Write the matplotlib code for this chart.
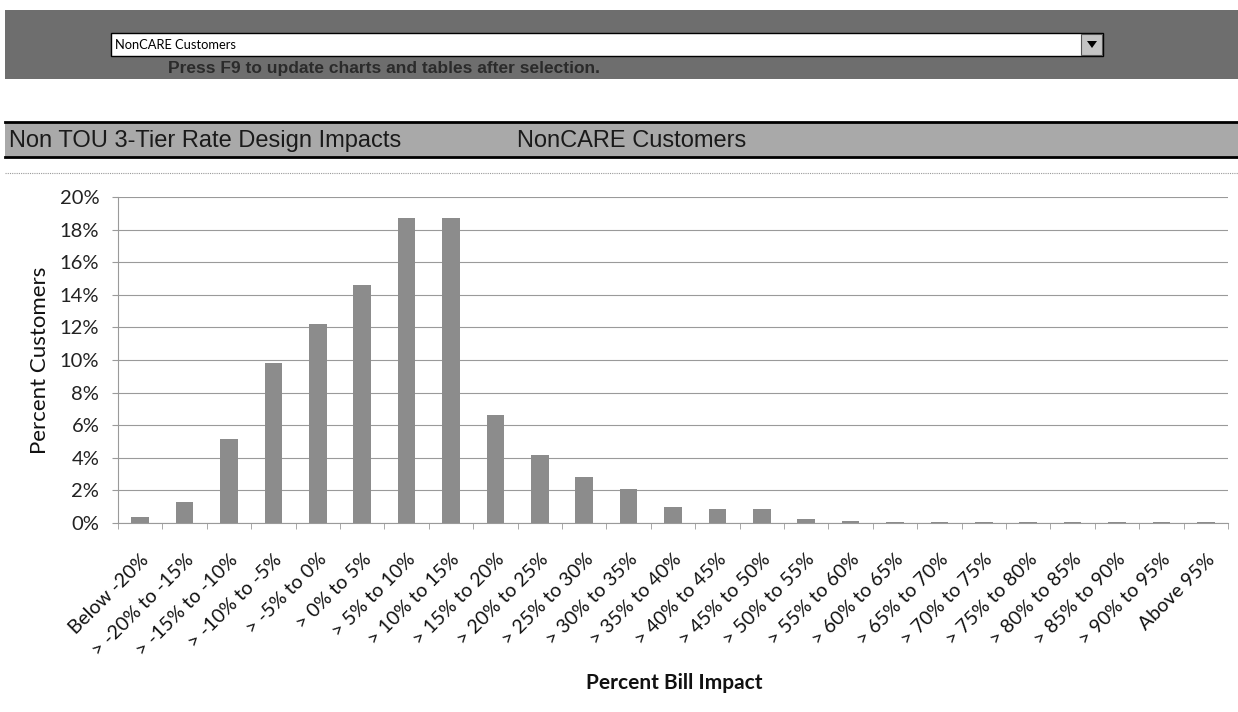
import matplotlib
matplotlib.use("Agg")
import matplotlib.pyplot as plt
import matplotlib.patches as patches
from matplotlib.ticker import PercentFormatter, FixedLocator
import numpy as np

W, H = 1238, 712

# bill impact bins and share of customers (fraction)
categories = ["Below -20%", "> -20% to -15%", "> -15% to -10%", "> -10% to -5%",
              "> -5% to 0%", "> 0% to 5%", "> 5% to 10%", "> 10% to 15%",
              "> 15% to 20%", "> 20% to 25%", "> 25% to 30%", "> 30% to 35%",
              "> 35% to 40%", "> 40% to 45%", "> 45% to 50%", "> 50% to 55%",
              "> 55% to 60%", "> 60% to 65%", "> 65% to 70%", "> 70% to 75%",
              "> 75% to 80%", "> 80% to 85%", "> 85% to 90%", "> 90% to 95%",
              "Above 95%"]
pct_customers = [0.0035, 0.013, 0.0515, 0.098, 0.122, 0.146, 0.187, 0.187,
                 0.066, 0.042, 0.028, 0.021, 0.0096, 0.0088, 0.0088, 0.0025,
                 0.0015, 0.0008, 0.0008, 0.0009, 0.0008, 0.0008, 0.0009, 0.0009,
                 0.0009]
y_ticks = np.arange(0, 0.201, 0.02)

selection = "NonCARE Customers"
hint = "Press F9 to update charts and tables after selection."
title = "Non TOU 3-Tier Rate Design Impacts"

fig = plt.figure(figsize=(W / 100, H / 100), dpi=100)


def fx(x):
    return x / W


def fy(y):
    return 1 - y / H


def rect(x0, y0, x1, y1, **kw):
    r = patches.Rectangle((fx(x0), fy(y1)), fx(x1) - fx(x0), fy(y0) - fy(y1),
                          transform=fig.transFigure, **kw)
    fig.patches.append(r)


# selector band at the top
rect(5, 10, 1238, 79, facecolor="#6e6e6e", edgecolor="none")
rect(111, 33, 1103, 56, facecolor="white", edgecolor="black", lw=1)
rect(1081, 34, 1102, 55, facecolor="#c4c4c4", edgecolor="#555555", lw=0.8)
tri = patches.Polygon([(fx(1087), fy(41)), (fx(1097), fy(41)), (fx(1092), fy(48))],
                      closed=True, facecolor="black", transform=fig.transFigure)
fig.patches.append(tri)
fig.text(fx(115), fy(45), selection, fontsize=9.3, family="Lato", va="center")
fig.text(fx(168), fy(68), hint, fontsize=12.5, family="Liberation Sans",
         weight="bold", color="#2b2b2b", va="center")

# title band
rect(5, 122, 1238, 157, facecolor="#a9a9a9", edgecolor="none")
fig.add_artist(plt.Line2D([fx(5), 1], [fy(122), fy(122)], color="black", lw=2,
                          transform=fig.transFigure))
fig.add_artist(plt.Line2D([fx(5), 1], [fy(157), fy(157)], color="black", lw=2,
                          transform=fig.transFigure))
fig.text(fx(9), fy(141), title, fontsize=17, family="Liberation Sans",
         color="#1a1a1a", va="center")
fig.text(fx(517), fy(141), selection, fontsize=17, family="Liberation Sans",
         color="#1a1a1a", va="center")
fig.add_artist(plt.Line2D([fx(5), 1], [fy(173), fy(173)], color="#9a9a9a", lw=0.8,
                          ls=(0, (1, 1)), transform=fig.transFigure))

# chart
ax = fig.add_axes([fx(118), fy(523), fx(1228) - fx(118), fy(197) - fy(523)])
x = np.arange(len(categories))
ax.bar(x, pct_customers, width=0.4, color="#8c8c8c", zorder=3)
ax.set_xlim(-0.5, len(categories) - 0.5)
ax.set_ylim(0, 0.20)
ax.set_yticks(y_ticks)
ax.yaxis.set_major_formatter(PercentFormatter(1, decimals=0))
ax.grid(axis="y", color="#9a9a9a", lw=0.8, zorder=0)

for s in ["top", "right"]:
    ax.spines[s].set_visible(False)
for s in ["left", "bottom"]:
    ax.spines[s].set_color("#9a9a9a")
    ax.spines[s].set_linewidth(0.8)

ax.tick_params(axis="y", length=4.5, color="#9a9a9a", pad=9, labelsize=14.5)
for lab in ax.get_yticklabels():
    lab.set_family("Lato")
    lab.set_color("#222222")

ax.set_xticks(x)
ax.set_xticklabels(categories, rotation=45, ha="right", va="top",
                   rotation_mode="anchor", fontsize=14, family="Lato",
                   color="#111111")
ax.tick_params(axis="x", which="major", length=0, pad=20)
ax.xaxis.set_minor_locator(FixedLocator(np.arange(-0.5, len(categories), 1.0)))
ax.tick_params(axis="x", which="minor", length=4, color="#9a9a9a")

fig.text(fx(40), fy(360), "Percent Customers", rotation=90, fontsize=16,
         family="Lato", ha="center", va="center", color="#111111")
fig.text(fx(674), fy(683), "Percent Bill Impact", fontsize=15, family="Lato",
         weight="bold", ha="center", va="center", color="#111111")

fig.savefig("out.png", dpi=100)
